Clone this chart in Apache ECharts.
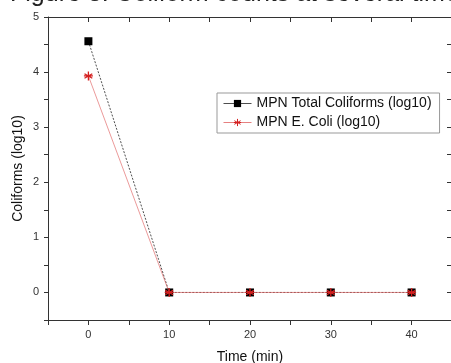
<!DOCTYPE html>
<html>
<head>
<meta charset="utf-8">
<script src="https://cdn.jsdelivr.net/npm/echarts@6/dist/echarts.min.js"></script>
<style>html,body{margin:0;padding:0;background:#fff}#c{width:451px;height:363px}</style>
</head>
<body>
<div id="c"></div>
<script>
var timeMin = [0, 10, 20, 30, 40];
var totalColiforms = [4.56, 0, 0, 0, 0];
var eColi = [3.93, 0, 0, 0, 0];
var seriesNames = ['MPN Total Coliforms (log10)', 'MPN E. Coli (log10)'];
var xTickLabels = ['0', '10', '20', '30', '40'];
var yTickLabels = ['0', '1', '2', '3', '4', '5'];

var font = 'Liberation Sans, Arial, sans-serif';
var asterisk = 'path://M0,-5L0,5M-4.33,-2.5L4.33,2.5M-4.33,2.5L4.33,-2.5M-5,0L5,0';

function pairs(xs, ys) { return xs.map(function (x, i) { return [x, ys[i]]; }); }

var chart = echarts.init(document.getElementById('c'), null, {renderer: 'canvas'});
var baseX = {
  type: 'value', min: -5, max: 45, interval: 5,
  axisLine: {show: true, onZero: false, lineStyle: {color: '#333', width: 1}},
  splitLine: {show: false}
};
var baseY = {
  type: 'value', min: -0.5, max: 5, interval: 0.5,
  axisLine: {show: true, onZero: false, lineStyle: {color: '#333', width: 1}},
  splitLine: {show: false}
};
chart.setOption({
  animation: false,
  backgroundColor: '#fff',
  graphic: [{
    type: 'text', left: 10, top: -18,
    style: {text: 'Figure 3: Coliform counts at several time points (log10)', font: '25px ' + font, fill: '#222'}
  }],
  grid: {left: 48, top: 17, width: 404, height: 303, containLabel: false, outerBoundsMode: 'none'},
  xAxis: [
    Object.assign({}, baseX, {
      position: 'bottom',
      name: 'Time (min)', nameLocation: 'middle', nameGap: 30, nameMoveOverlap: false,
      nameTextStyle: {fontFamily: font, fontSize: 14, color: '#111'},
      axisTick: {show: true, inside: false, length: 5, lineStyle: {color: '#333'}},
      axisLabel: {
        margin: 9, fontFamily: font, fontSize: 11, color: '#333',
        formatter: function (v) { var i = timeMin.indexOf(v); return i >= 0 ? xTickLabels[i] : ''; }
      }
    }),
    Object.assign({}, baseX, {
      position: 'top',
      axisTick: {show: true, inside: true, length: 5, lineStyle: {color: '#333'}},
      axisLabel: {show: false}
    })
  ],
  yAxis: [
    Object.assign({}, baseY, {
      position: 'left',
      name: 'Coliforms (log10)', nameLocation: 'middle', nameGap: 23, nameMoveOverlap: false,
      nameTextStyle: {fontFamily: font, fontSize: 14, color: '#111'},
      axisTick: {show: true, inside: false, length: 4, lineStyle: {color: '#333'}},
      axisLabel: {
        margin: 9, fontFamily: font, fontSize: 11, color: '#333',
        formatter: function (v) { return (Math.abs(v - Math.round(v)) < 1e-9 && v >= 0) ? yTickLabels[Math.round(v)] : ''; }
      }
    }),
    Object.assign({}, baseY, {
      position: 'right',
      axisTick: {show: true, inside: true, length: 5, lineStyle: {color: '#333'}},
      axisLabel: {show: false}
    })
  ],
  legend: {
    orient: 'vertical', left: 217, top: 93,
    padding: [3, 8, 3, 6],
    borderColor: '#999', borderWidth: 1,
    itemWidth: 28, itemHeight: 9, itemGap: 4,
    textStyle: {fontFamily: font, fontSize: 14, color: '#111', lineHeight: 15},
    lineStyle: {type: 'solid', width: 1, opacity: 0.8},
    data: [
      {name: seriesNames[0]},
      {name: seriesNames[1], itemStyle: {color: 'rgba(0,0,0,0)', borderColor: '#d42020', borderWidth: 1}}
    ]
  },
  series: [
    {
      name: seriesNames[0], type: 'line', xAxisIndex: 0, yAxisIndex: 0,
      data: pairs(timeMin, totalColiforms),
      symbol: 'rect', symbolSize: 8,
      itemStyle: {color: '#000'},
      lineStyle: {color: '#222', width: 0.8, type: [2, 1.5]},
      z: 2
    },
    {
      name: seriesNames[1], type: 'line', xAxisIndex: 0, yAxisIndex: 0,
      data: pairs(timeMin, eColi),
      symbol: asterisk, symbolSize: 9,
      itemStyle: {color: 'rgba(0,0,0,0)', borderColor: '#d42020', borderWidth: 1.3},
      lineStyle: {color: '#e06060', width: 0.8, opacity: 0.8},
      z: 3
    }
  ]
});
</script>
</body>
</html>
